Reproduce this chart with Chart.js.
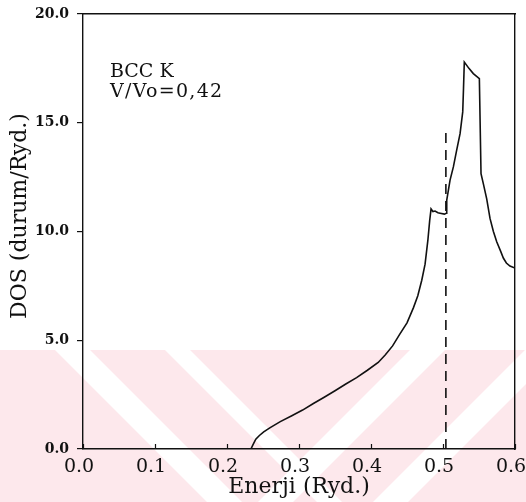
<!DOCTYPE html>
<html>
<head>
<meta charset="utf-8">
<script src="https://cdn.jsdelivr.net/npm/chart.js@4.4.1/dist/chart.umd.min.js"></script>
<style>
  html, body { margin: 0; padding: 0; background: #ffffff; }
  #wrap { position: relative; width: 526px; height: 502px; }
</style>
</head>
<body>
<div id="wrap"><canvas id="dos" width="526" height="502"></canvas></div>
<script>
// Density of states of BCC potassium, V/Vo = 0.42
const energy = [0.2332, 0.2365, 0.2400, 0.2450, 0.2510, 0.2600, 0.2740, 0.2900, 0.3050, 0.3200,
                0.3350, 0.3500, 0.3650, 0.3800, 0.3950, 0.4100, 0.4200, 0.4300, 0.4400, 0.4500,
                0.4590, 0.4650, 0.4705, 0.4751, 0.4790, 0.4815, 0.4834, 0.4860, 0.4889, 0.4930,
                0.4960, 0.5020, 0.5045, 0.5052, 0.5098, 0.5144, 0.5190, 0.5237, 0.5274, 0.5285,
                0.5296, 0.5360, 0.5421, 0.5505, 0.5528, 0.5560, 0.5607, 0.5653, 0.5700, 0.5746,
                0.5800, 0.5838, 0.5880, 0.5930, 0.6000];
const dos    = [0.00, 0.22, 0.45, 0.62, 0.79, 0.98, 1.26, 1.53, 1.79, 2.09,
                2.38, 2.68, 2.99, 3.28, 3.62, 3.98, 4.33, 4.74, 5.28, 5.80,
                6.50, 7.05, 7.76, 8.50, 9.60, 10.50, 11.04, 10.92, 10.94, 10.86,
                10.84, 10.80, 10.84, 11.44, 12.36, 12.97, 13.74, 14.50, 15.50, 16.60,
                17.79, 17.50, 17.26, 17.03, 12.66, 12.20, 11.50, 10.60, 10.00, 9.53,
                9.10, 8.78, 8.55, 8.41, 8.32];

// Fermi level marker
const fermiEnergy = 0.504;
const fermiTop = 14.58;

const xTicks = [0.0, 0.1, 0.2, 0.3, 0.4, 0.5, 0.6];
const yTicks = [0.0, 5.0, 10.0, 15.0, 20.0];

const curve = energy.map((e, i) => ({ x: e, y: dos[i] }));
const fermiLine = [{ x: fermiEnergy, y: 0 }, { x: fermiEnergy, y: fermiTop }];

// Pale pink banded backdrop behind the lower part of the figure
const backdrop = {
  id: 'backdrop',
  beforeDraw(chart) {
    const ctx = chart.ctx;
    ctx.save();
    ctx.fillStyle = '#fde8ec';
    ctx.fillRect(0, 350, 526, 152);
    ctx.fillStyle = '#ffffff';
    const h = 152, top = 350;
    const bands = [
      [55, 90, 1], [165, 190, 1],
      [410, 445, -1], [525, 560, -1]
    ];
    for (const [a, b, dir] of bands) {
      ctx.beginPath();
      ctx.moveTo(a, top);
      ctx.lineTo(b, top);
      ctx.lineTo(b + dir * h, top + h);
      ctx.lineTo(a + dir * h, top + h);
      ctx.closePath();
      ctx.fill();
    }
    ctx.restore();
  }
};

// Caption, vertical axis title and inward tick marks on the energy axis
const labels = {
  id: 'labels',
  afterDraw(chart) {
    const ctx = chart.ctx;
    const xs = chart.scales.x;
    const bottom = chart.chartArea.bottom;
    ctx.save();
    ctx.strokeStyle = '#111';
    ctx.lineWidth = 1.2;
    ctx.beginPath();
    for (const v of xTicks) {
      const px = Math.round(xs.getPixelForValue(v)) + 0.5;
      ctx.moveTo(px, bottom);
      ctx.lineTo(px, bottom - 5);
    }
    ctx.stroke();

    ctx.fillStyle = '#111';
    ctx.font = '19px "DejaVu Serif"';
    ctx.textBaseline = 'alphabetic';
    ctx.fillText('BCC K', 110, 77);
    ctx.letterSpacing = '1.3px';
    ctx.fillText('V/Vo=0,42', 110, 97);
    ctx.letterSpacing = '0px';
    ctx.translate(20, 216);
    ctx.rotate(-Math.PI / 2);
    ctx.font = '22px "DejaVu Serif"';
    ctx.textAlign = 'center';
    ctx.textBaseline = 'middle';
    ctx.fillText('DOS (durum/Ryd.)', 0, 0);
    ctx.restore();
  }
};

new Chart(document.getElementById('dos'), {
  type: 'scatter',
  data: {
    datasets: [
      {
        data: curve,
        showLine: true,
        borderColor: '#111',
        borderWidth: 1.6,
        pointRadius: 0,
        tension: 0
      },
      {
        data: fermiLine,
        showLine: true,
        borderColor: '#111',
        borderWidth: 1.6,
        borderDash: [10, 7],
        pointRadius: 0
      }
    ]
  },
  options: {
    responsive: false,
    animation: false,
    devicePixelRatio: 1,
    layout: { padding: { top: 14, right: 11, left: 0, bottom: 0 } },
    plugins: { legend: { display: false }, tooltip: { enabled: false } },
    scales: {
      x: {
        type: 'linear',
        min: 0, max: 0.6,
        afterBuildTicks(scale) { scale.ticks = xTicks.map(v => ({ value: v })); },
        afterFit(scale) { scale.height = 53; scale.paddingLeft = 0; scale.paddingRight = 0; },
        border: { display: true, color: '#111', width: 1.4 },
        grid: { drawOnChartArea: false, drawTicks: false },
        ticks: {
          color: '#111',
          padding: 7,
          labelOffset: -4,
          maxRotation: 0,
          font: { family: 'DejaVu Serif', size: 19 },
          callback: v => v.toFixed(1)
        },
        title: {
          display: true,
          text: 'Enerji (Ryd.)',
          color: '#111',
          font: { family: 'DejaVu Serif', size: 22 },
          padding: { top: -8, bottom: 2 }
        }
      },
      x2: {
        type: 'linear', position: 'top', min: 0, max: 0.6,
        afterFit(scale) { scale.height = 0; scale.paddingLeft = 0; scale.paddingRight = 0; },
        border: { display: true, color: '#111', width: 1.4 },
        grid: { display: false },
        ticks: { display: false }
      },
      y: {
        type: 'linear',
        min: 0, max: 20,
        afterBuildTicks(scale) { scale.ticks = yTicks.map(v => ({ value: v })); },
        afterFit(scale) { scale.width = 83; scale.paddingTop = 0; scale.paddingBottom = 0; },
        border: { display: true, color: '#111', width: 1.4 },
        grid: { drawOnChartArea: false, color: '#111', tickLength: 6, lineWidth: 1.2 },
        ticks: {
          color: '#111',
          padding: 8,
          font: { family: 'DejaVu Serif', size: 14, weight: 'bold' },
          callback: v => v.toFixed(1)
        }
      },
      y2: {
        type: 'linear', position: 'right', min: 0, max: 20,
        afterFit(scale) { scale.width = 0; scale.paddingTop = 0; scale.paddingBottom = 0; },
        border: { display: true, color: '#111', width: 1.4 },
        grid: { display: false },
        ticks: { display: false }
      }
    }
  },
  plugins: [backdrop, labels]
});
</script>
</body>
</html>
